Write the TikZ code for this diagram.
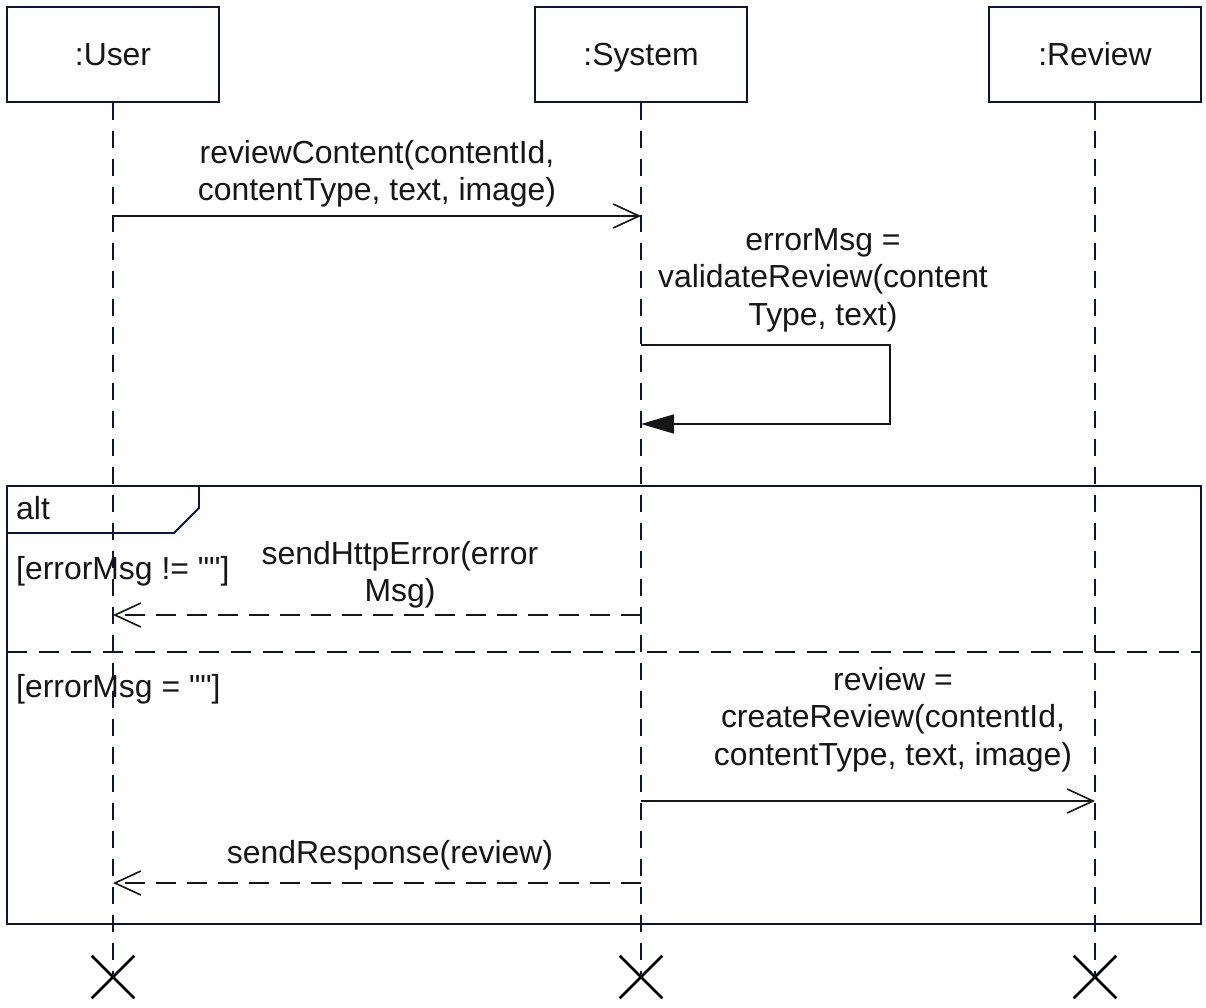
\documentclass[tikz,border=0pt]{standalone}
\usepackage{fontspec}
\setmainfont{Liberation Sans}[Ligatures=TeXOff]
\usetikzlibrary{arrows.meta,shapes.misc}
\definecolor{navy}{RGB}{12,22,58}
\definecolor{ink}{RGB}{22,22,22}
\begin{document}
\begin{tikzpicture}[x=1pt,y=-1pt,
  every node/.style={font=\fontsize{31.9}{37.5}\selectfont, text=ink, inner sep=0pt},
  objbox/.style={draw=navy, line width=1.6pt, fill=white, minimum width=212pt, minimum height=95pt, text height=22.7pt, text depth=0pt},
  lifeline/.style={draw=navy, line width=1.6pt, dash pattern=on 17pt off 11pt},
  destroy/.style={draw=black, cross out, line width=2.6pt, minimum size=40pt},
  msgsync/.style={draw=ink, line width=1.6pt, -{Straight Barb[length=26pt,width=24pt]}},
  msgret/.style={draw=ink, line width=1.6pt, dash pattern=on 20pt off 11pt, -{Straight Barb[length=26pt,width=24pt]}},
  msgself/.style={draw=ink, line width=1.6pt, -{Triangle[length=33pt,width=19pt]}},
  framebox/.style={draw=navy, line width=1.8pt},
  separator/.style={draw=navy, line width=1.6pt, dash pattern=on 20pt off 12pt},
  lbl/.style={align=center}
]
\useasboundingbox (0,0) rectangle (1206,1008);
\fill[white] (0,0) rectangle (1206,1008);

% objects
\node[objbox] (user) at (113,54.5) {:User};
\node[objbox] (sys) at (641,54.5) {:System};
\node[objbox] (rev) at (1095,54.5) {:Review};

% destruction marks
\node[destroy] (userX) at (113,977) {};
\node[destroy] (sysX) at (641,977) {};
\node[destroy] (revX) at (1095,977) {};

% lifelines
\draw[lifeline] (user.south) -- (userX.center);
\draw[lifeline] (sys.south) -- (sysX.center);
\draw[lifeline] (rev.south) -- (revX.center);

% combined fragment
\node[framebox, minimum width=1194pt, minimum height=438pt] (frame) at (604,705) {};
\coordinate (tabA) at (7,533);
\coordinate (tabB) at (174,533);
\coordinate (tabC) at (199,508);
\coordinate (tabD) at (199,486);
\draw[framebox] (tabA) -- (tabB) -- (tabC) -- (tabD);
\coordinate (sepL) at (7,652);
\coordinate (sepR) at (1201,652);
\draw[separator] (sepL) -- (sepR);

% message points
\coordinate (m1a) at (113,216);
\coordinate (m1b) at (641,216);
\coordinate (s1a) at (641,345);
\coordinate (s1b) at (890,345);
\coordinate (s1c) at (890,424);
\coordinate (s1d) at (641,424);
\coordinate (m3a) at (641,615);
\coordinate (m3b) at (113,615);
\coordinate (m4a) at (641,801);
\coordinate (m4b) at (1095,801);
\coordinate (m5a) at (641,883);
\coordinate (m5b) at (113,883);

\draw[msgsync] (m1a) -- (m1b);
\draw[msgself] (s1a) -- (s1b) -- (s1c) -- (s1d);
\draw[msgret] (m3a) -- (m3b);
\draw[msgsync] (m4a) -- (m4b);
\draw[msgret] (m5a) -- (m5b);

% labels
\node[lbl, anchor=north] (l1) at (377,140) {reviewContent(contentId,\\contentType, text, image)};
\node[lbl, anchor=north] (l2) at (823,228) {errorMsg =\\validateReview(content\\Type, text)};
\node[lbl, anchor=north] (l3) at (400,541) {sendHttpError(error\\Msg)};
\node[lbl, anchor=north] (l4) at (893,667) {review =\\createReview(contentId,\\contentType, text, image)};
\node[anchor=north] (l5) at (390,840) {sendResponse(review)};
\node[anchor=north west] (alt) at (16,496) {alt};
\node[anchor=north west] (g1) at (16,556) {[errorMsg != ""]};
\node[anchor=north west] (g2) at (16,674) {[errorMsg = ""]};
\end{tikzpicture}
\end{document}
